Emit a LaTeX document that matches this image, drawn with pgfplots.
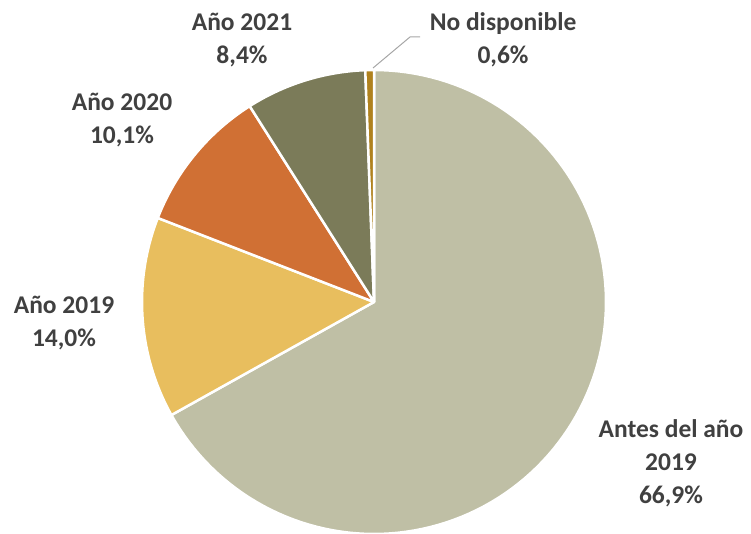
\documentclass[border=0pt]{standalone}
\usepackage{pgfplots}
\usepackage{pgfplotstable}
\pgfplotsset{compat=1.18}
\usepackage{fontspec}
\setmainfont{Carlito}
\definecolor{cA}{HTML}{BFBFA5}
\definecolor{cB}{HTML}{E8BE5E}
\definecolor{cC}{HTML}{D07034}
\definecolor{cD}{HTML}{7B7B59}
\definecolor{cE}{HTML}{B0821E}
\definecolor{txt}{HTML}{404040}
\tikzset{lbl/.style={font=\fontsize{25.5}{33}\selectfont\bfseries, text=txt, align=center, inner sep=0pt}}
\pgfplotstableread{
id value
0 66.9
1 14.0
2 10.1
3 8.4
4 0.6
}\piedata
\begin{document}
\begin{tikzpicture}
\pgfplotstablegetelem{0}{value}\of\piedata \let\vA\pgfplotsretval
\pgfplotstablegetelem{1}{value}\of\piedata \let\vB\pgfplotsretval
\pgfplotstablegetelem{2}{value}\of\piedata \let\vC\pgfplotsretval
\pgfplotstablegetelem{3}{value}\of\piedata \let\vD\pgfplotsretval
\pgfplotstablegetelem{4}{value}\of\piedata \let\vE\pgfplotsretval
\pgfmathsetmacro\aA{90}
\pgfmathsetmacro\aB{\aA-3.6*\vA}
\pgfmathsetmacro\aC{\aB-3.6*\vB}
\pgfmathsetmacro\aD{\aC-3.6*\vC}
\pgfmathsetmacro\aE{\aD-3.6*\vD}
\pgfmathsetmacro\aF{\aE-3.6*\vE}
\def\cx{374}\def\cy{231}\def\R{232}
\begin{axis}[
  width=751pt, height=533pt, scale only axis,
  xmin=0, xmax=751, ymin=0, ymax=533,
  axis lines=none, clip=false,
]
\addplot[fill=cA, draw=white, line width=2.5pt, line join=round, domain=\aB:\aA, samples=120, variable=\t] ({\cx+\R*cos(\t)},{\cy+\R*sin(\t)}) -- (axis cs:\cx,\cy) -- cycle;
\addplot[fill=cB, draw=white, line width=2.5pt, line join=round, domain=\aC:\aB, samples=40, variable=\t] ({\cx+\R*cos(\t)},{\cy+\R*sin(\t)}) -- (axis cs:\cx,\cy) -- cycle;
\addplot[fill=cC, draw=white, line width=2.5pt, line join=round, domain=\aD:\aC, samples=30, variable=\t] ({\cx+\R*cos(\t)},{\cy+\R*sin(\t)}) -- (axis cs:\cx,\cy) -- cycle;
\addplot[fill=cD, draw=white, line width=2.5pt, line join=round, domain=\aE:\aD, samples=30, variable=\t] ({\cx+\R*cos(\t)},{\cy+\R*sin(\t)}) -- (axis cs:\cx,\cy) -- cycle;
\addplot[fill=cE, draw=white, line width=2.5pt, line join=round, domain=\aF:\aE, samples=5, variable=\t] ({\cx+\R*cos(\t)},{\cy+\R*sin(\t)}) -- (axis cs:\cx,\cy) -- cycle;
\addplot[color=black!35, line width=1pt] coordinates {(373,465) (410,496) (420,496)};
\node[lbl] at (axis cs:242,493) {Año 2021\\8,4\%};
\node[lbl] at (axis cs:503,493) {No disponible\\0,6\%};
\node[lbl] at (axis cs:122,413) {Año 2020\\10,1\%};
\node[lbl] at (axis cs:64,210) {Año 2019\\14,0\%};
\node[lbl] at (axis cs:671,70) {Antes del año\\2019\\66,9\%};
\end{axis}
\pgfresetboundingbox
\path[use as bounding box] (current axis.south west) rectangle (current axis.north east);
\end{tikzpicture}
\end{document}
